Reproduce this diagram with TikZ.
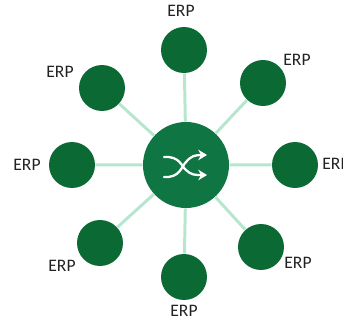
\documentclass[tikz,border=0pt]{standalone}
\usepackage{fontspec}
\setmainfont{Carlito}
\usetikzlibrary{arrows.meta}
\definecolor{hubgreen}{HTML}{0F7543}
\definecolor{erpgreen}{HTML}{0B6A34}
\definecolor{spokegreen}{HTML}{B7E6CF}
\definecolor{labelgray}{HTML}{222222}
\begin{document}
\begin{tikzpicture}[scale=.02]
  \tikzset{erpnode/.style={circle, fill=erpgreen, minimum size=.92cm, inner sep=0pt}}
  \tikzset{erplabel/.style={font=\fontsize{10}{12}\selectfont, text=labelgray, inner sep=0pt}}
  \tikzset{spoke/.style={line width=1.7pt, spokegreen}}
  \tikzset{swap/.style={line width=1.3pt, white, line cap=round, -{Stealth[length=5pt, width=6pt]}}}
  \useasboundingbox (0, 0) rectangle (343, 323);
  \clip (0, 0) rectangle (343, 323);
  \node[circle, fill=hubgreen, minimum size=1.72cm, inner sep=0pt] (hub) at (186, 158) {};
  \node[erpnode] (erp-n) at (184, 273) {};
  \node[erpnode] (erp-ne) at (263, 240) {};
  \node[erpnode] (erp-e) at (295, 158) {};
  \node[erpnode] (erp-se) at (261, 76) {};
  \node[erpnode] (erp-s) at (184, 46) {};
  \node[erpnode] (erp-sw) at (100, 80) {};
  \node[erpnode] (erp-w) at (72, 158) {};
  \node[erpnode] (erp-nw) at (102, 235) {};
  \foreach \t in {n, ne, e, se, s, sw, w, nw} {
    \draw[spoke] (hub) -- (erp-\t);
  }
  \node[erplabel] (label-n) at (181, 312) {ERP};
  \node[erplabel] (label-ne) at (297, 263) {ERP};
  \node[erplabel] (label-e) at (336, 159) {ERP};
  \node[erplabel] (label-se) at (298, 60) {ERP};
  \node[erplabel] (label-s) at (184, 12) {ERP};
  \node[erplabel] (label-sw) at (62, 57) {ERP};
  \node[erplabel] (label-w) at (27, 158) {ERP};
  \node[erplabel] (label-nw) at (60, 251) {ERP};
  % shuffle icon
  \draw[swap] (164, 166) .. controls (180, 167) and (181, 157) .. (186, 153) .. controls (191, 148) and (195, 148) .. (207, 148);
  \draw[swap] (164, 146) .. controls (180, 145) and (181, 156) .. (186, 161) .. controls (191, 167) and (195, 168) .. (207, 168);
\end{tikzpicture}
\end{document}
